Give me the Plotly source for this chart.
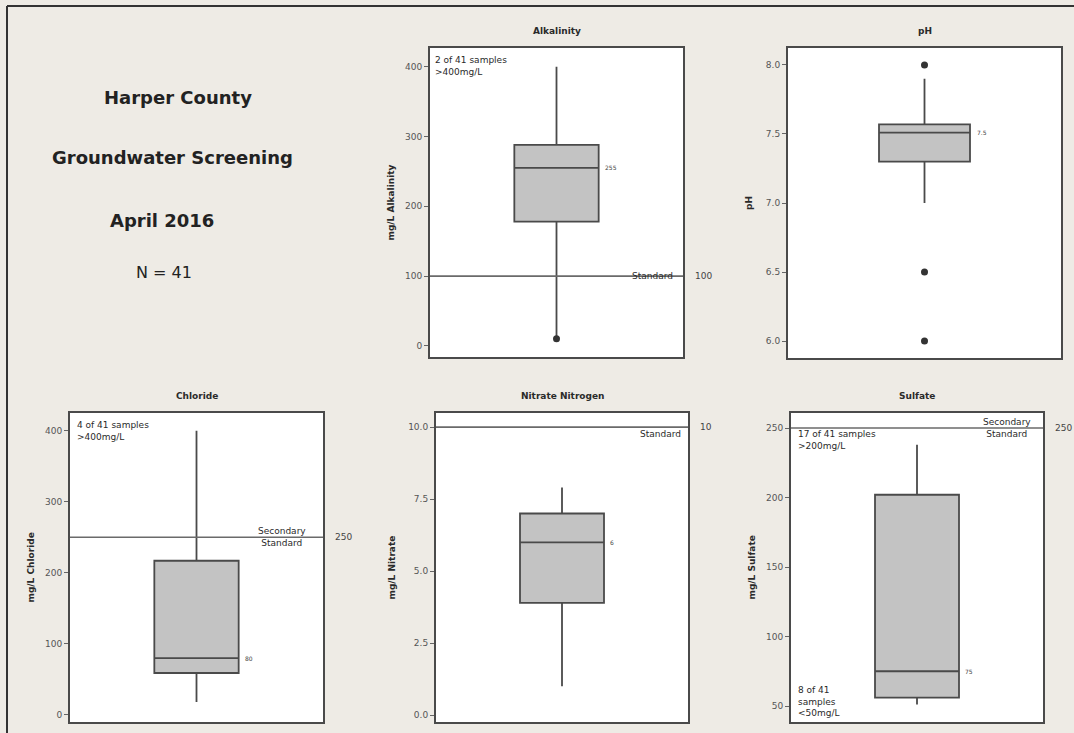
import plotly.graph_objects as go

W, H = 1074, 733

# ---- data -------------------------------------------------------------
params = ["Alkalinity", "pH", "Chloride", "Nitrate Nitrogen", "Sulfate"]
axis_titles = ["mg/L Alkalinity", "pH", "mg/L Chloride", "mg/L Nitrate", "mg/L Sulfate"]

q1 = [178, 7.30, 59, 3.9, 56]
medians = [255, 7.51, 80, 6.0, 75]
q3 = [288, 7.57, 217, 7.0, 202]
lower_whisker = [10, 7.0, 18, 1.0, 51]
upper_whisker = [400, 7.9, 400, 7.9, 238]

outliers = [[10], [8.0, 6.5, 6.0], [], [], []]

standards = [100, None, 250, 10, 250]
standard_value_text = ["100", None, "250", "10", "250"]

tick_values = [
    [0, 100, 200, 300, 400],
    [6.0, 6.5, 7.0, 7.5, 8.0],
    [0, 100, 200, 300, 400],
    [0.0, 2.5, 5.0, 7.5, 10.0],
    [50, 100, 150, 200, 250],
]
tick_text = [
    ["0", "100", "200", "300", "400"],
    ["6.0", "6.5", "7.0", "7.5", "8.0"],
    ["0", "100", "200", "300", "400"],
    ["0.0", "2.5", "5.0", "7.5", "10.0"],
    ["50", "100", "150", "200", "250"],
]
y_ranges = [[-16, 427], [5.877, 8.123], [-10, 425], [-0.24, 10.49], [38.5, 260.8]]
median_text = ["255", "7.5", "80", "6", "75"]

# ---- layout geometry (pixels) -----------------------------------------
# (left, right, top, bottom) of each panel frame
frames = [
    (430, 683, 48, 357),
    (788, 1061, 48, 358),
    (70, 323, 413, 722),
    (436, 688, 413, 722),
    (791, 1043, 413, 722),
]
ytitle_x = [390, 749, 30, 391, 751]


def px(x):
    return x / W


def py(y):
    return 1 - y / H


BG = "#eeebe5"
LINE = "#4a4a4a"
TXT = "#2a2a2a"
FONT = "DejaVu Sans"

fig = go.Figure()
annotations = []
shapes = []

for i, name in enumerate(params):
    n = "" if i == 0 else str(i + 1)
    xa, ya = "x" + n, "y" + n
    l, r, t, b = frames[i]

    fig.add_trace(go.Box(
        x=[0], q1=[q1[i]], median=[medians[i]], q3=[q3[i]],
        lowerfence=[lower_whisker[i]], upperfence=[upper_whisker[i]],
        width=1.0, whiskerwidth=0,
        fillcolor="#c3c3c3", line=dict(color=LINE, width=1.8),
        boxpoints=False, hoverinfo="skip", showlegend=False,
        xaxis=xa, yaxis=ya,
    ))
    if outliers[i]:
        fig.add_trace(go.Scatter(
            x=[0] * len(outliers[i]), y=outliers[i], mode="markers",
            marker=dict(symbol="circle", size=7, color="#333333"),
            hoverinfo="skip", showlegend=False, xaxis=xa, yaxis=ya,
        ))

    fig.layout["xaxis" + n] = dict(
        domain=[px(l), px(r)], range=[-1.5, 1.5], anchor=ya,
        showticklabels=False, ticks="", showgrid=False, zeroline=False,
        showline=True, mirror=True, linecolor=LINE, linewidth=2,
    )
    fig.layout["yaxis" + n] = dict(
        domain=[py(b), py(t)], range=y_ranges[i], anchor=xa,
        tickvals=tick_values[i], ticktext=tick_text[i],
        ticks="outside", ticklen=4, tickcolor="#666", tickwidth=1,
        tickfont=dict(family=FONT, size=9, color="#555"),
        showgrid=False, zeroline=False,
        showline=True, mirror=True, linecolor=LINE, linewidth=2,
    )

    # panel title and axis title
    annotations.append(dict(
        text="<b>%s</b>" % name, xref="paper", yref="paper",
        x=px((l + r) / 2), y=py(t - 17), xanchor="center", yanchor="middle",
        showarrow=False, font=dict(family=FONT, size=9, color=TXT),
    ))
    annotations.append(dict(
        text="<b>%s</b>" % axis_titles[i], xref="paper", yref="paper",
        x=px(ytitle_x[i]), y=py((t + b) / 2), xanchor="center", yanchor="middle",
        textangle=-90, showarrow=False,
        font=dict(family=FONT, size=9, color=TXT),
    ))

    # median label beside the box
    annotations.append(dict(
        text=median_text[i], xref=xa, yref=ya, x=0.55, y=medians[i],
        xanchor="left", yanchor="middle", showarrow=False,
        font=dict(family=FONT, size=6, color="#444"),
    ))

    # reference standard
    if standards[i] is not None:
        shapes.append(dict(
            type="line", xref=xa + " domain", yref=ya,
            x0=0, x1=1, y0=standards[i], y1=standards[i],
            line=dict(color="#6a6a6a", width=1.6),
        ))
        annotations.append(dict(
            text=standard_value_text[i], xref=xa + " domain", yref=ya,
            x=1.04, y=standards[i], xanchor="left", yanchor="middle",
            showarrow=False, font=dict(family=FONT, size=9, color="#444"),
        ))

# standard label placement for each panel
annotations += [
    dict(text="Standard", xref="x domain", yref="y", x=0.97, y=100,
         xanchor="right", yanchor="middle", showarrow=False,
         font=dict(family=FONT, size=9, color=TXT)),
    dict(text="Secondary<br>Standard", xref="x3 domain", yref="y3", x=0.94, y=250,
         xanchor="right", yanchor="middle", showarrow=False, align="center",
         font=dict(family=FONT, size=9, color=TXT)),
    dict(text="Standard", xref="x4 domain", yref="y4", x=0.98, y=10,
         xanchor="right", yanchor="top", showarrow=False,
         font=dict(family=FONT, size=9, color=TXT)),
    dict(text="Secondary<br>Standard", xref="x5 domain", yref="y5", x=0.96, y=250,
         xanchor="right", yanchor="middle", showarrow=False, align="center",
         font=dict(family=FONT, size=9, color=TXT)),
]

# sample count notes
notes = [
    ("x", "y", 0.01, 0.985, "2 of 41 samples<br>>400mg/L"),
    ("x3", "y3", 0.02, 0.985, "4 of 41 samples<br>>400mg/L"),
    ("x5", "y5", 0.02, 0.955, "17 of 41 samples<br>>200mg/L"),
    ("x5", "y5", 0.02, 0.005, "8 of 41<br>samples<br><50mg/L"),
]
for xa, ya, x, y, txt in notes:
    annotations.append(dict(
        text=txt, xref=xa + " domain", yref=ya + " domain", x=x, y=y,
        xanchor="left", yanchor="top" if y > 0.5 else "bottom",
        align="left", showarrow=False,
        font=dict(family=FONT, size=9, color=TXT),
    ))

# heading block
heading = [
    ("<b>Harper County</b>", 178, 97, 18),
    ("<b>Groundwater Screening</b>", 172, 157, 18),
    ("<b>April 2016</b>", 162, 220, 18),
    ("N = 41", 164, 272, 16),
]
for txt, x, y, size in heading:
    annotations.append(dict(
        text=txt, xref="paper", yref="paper", x=px(x), y=py(y),
        xanchor="center", yanchor="middle",
        showarrow=False, font=dict(family=FONT, size=size, color="#222"),
    ))

# outer frame edges
shapes += [
    dict(type="line", xref="paper", yref="paper", x0=px(7), x1=1, y0=py(6), y1=py(6),
         line=dict(color="#333", width=2)),
    dict(type="line", xref="paper", yref="paper", x0=px(7), x1=px(7), y0=py(6), y1=0,
         line=dict(color="#333", width=2)),
]

fig.update_layout(
    width=W, height=H, margin=dict(l=0, r=0, t=0, b=0),
    paper_bgcolor=BG, plot_bgcolor="white",
    annotations=annotations, shapes=shapes, showlegend=False,
)

fig.write_html("out.html")
